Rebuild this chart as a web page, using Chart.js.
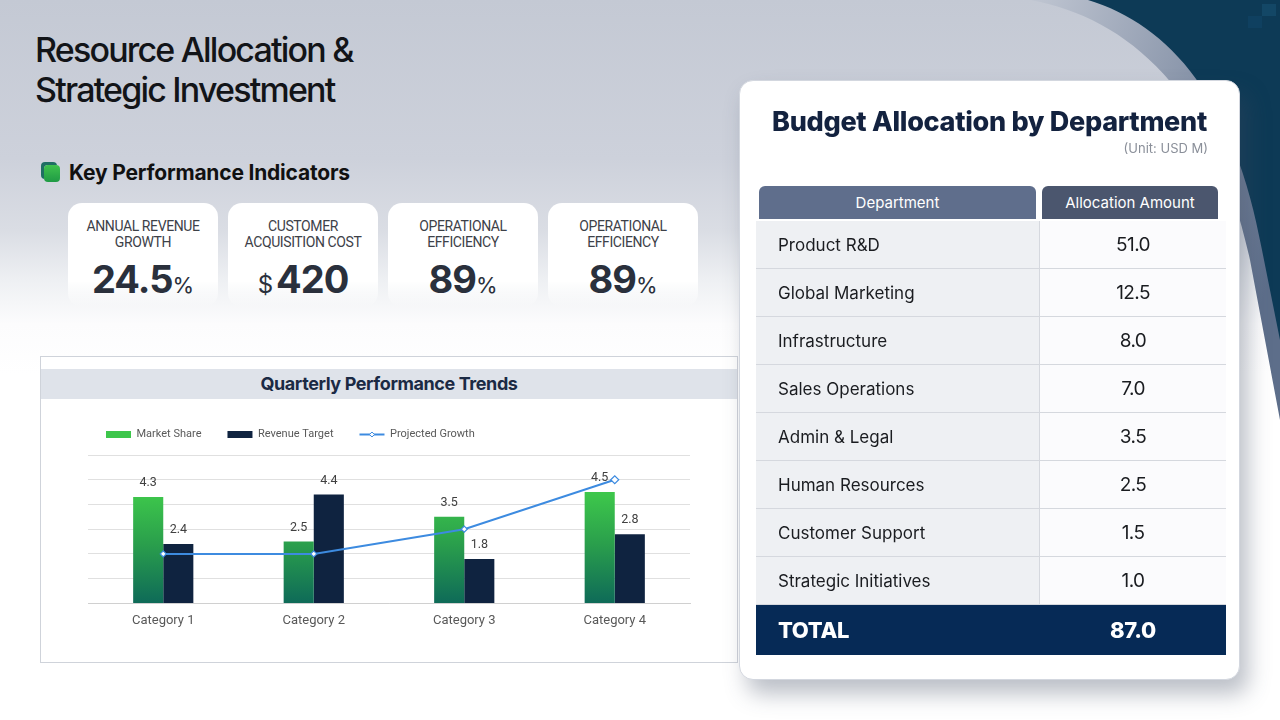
<!DOCTYPE html>
<html>
<head>
<meta charset="utf-8">
<script src="https://cdn.jsdelivr.net/npm/chart.js@4.4.1/dist/chart.umd.min.js"></script>
<style>
  html, body { margin: 0; padding: 0; }
  body {
    width: 1280px; height: 720px; overflow: hidden; position: relative;
    font-family: Inter, "Noto Sans", sans-serif;
    background: linear-gradient(180deg, #c4c9d4 0%, #cdd1db 22%, #dadde4 32%, #eef0f3 39%, #fcfcfd 45%, #ffffff 52%);
  }
  .deco { position: absolute; left: 0; top: 0; }
  .title {
    position: absolute; left: 35px; top: 30px; font-size: 34px; line-height: 40px;
    letter-spacing: -1.8px; color: #121418; font-weight: 500;
  }
  .kpi-head {
    position: absolute; left: 44px; top: 160px; font-size: 21px; font-weight: 700;
    color: #111; letter-spacing: -0.2px; display: flex; align-items: center;
  }
  .kpi-icon {
    width: 16px; height: 17px; border-radius: 4px; margin-right: 9px; margin-top: 2px;
    background: linear-gradient(180deg, #3fc24d, #1f9a45);
    box-shadow: -3px -3px 0 #1f6f63;
  }
  .card {
    position: absolute; top: 203px; width: 150px; height: 104px; border-radius: 14px;
    background: linear-gradient(180deg, #ffffff 75%, rgba(255,255,255,0) 100%);
    text-align: center;
  }
  .card .lbl {
    margin-top: 15px; font-size: 14px; line-height: 16px; color: #3d4148;
    font-family: "Roboto", sans-serif; letter-spacing: -0.4px;
  }
  .card .val {
    margin-top: 6px; font-size: 38px; font-weight: 700; color: #2a303c; letter-spacing: -1px;
    font-family: Inter, sans-serif;
  }
  .card .val small { font-size: 22px; font-weight: 400; letter-spacing: 0; }
  .card .val .cur { font-size: 24px; font-weight: 400; margin-right: 4px; }
  .panel {
    position: absolute; left: 40px; top: 356px; width: 698px; height: 307px;
    background: #fff; border: 1px solid #cfd3da; box-sizing: border-box;
  }
  .panel .band {
    position: absolute; left: 0; right: 0; top: 12px; height: 30px; background: #dfe3ea;
    text-align: center; line-height: 30px; font-size: 18px; font-weight: 700; color: #1b2a44;
    letter-spacing: -0.4px;
  }
  .chart-box { position: absolute; left: 41px; top: 399px; width: 697px; height: 263px; }
  .budget {
    position: absolute; left: 739px; top: 80px; width: 501px; height: 600px;
    background: #fff; border-radius: 14px; border: 1px solid #d3d7df; box-sizing: border-box;
    box-shadow: 8px 14px 22px rgba(60, 72, 95, 0.35);
  }
  .budget h2 {
    margin: 0; position: absolute; left: 0; right: 0; top: 24px; text-align: center;
    font-size: 27px; font-weight: 800; color: #13223f; letter-spacing: -0.3px;
  }
  .budget .unit {
    position: absolute; right: 31px; top: 59px; font-size: 13px; color: #8a8f99;
  }
  .hcell {
    position: absolute; top: 105px; height: 33px; line-height: 33px; text-align: center;
    color: #fff; font-size: 15px; border-radius: 6px 6px 0 0;
  }
  table {
    position: absolute; left: 16px; top: 140px; width: 470px; border-collapse: separate;
    border-spacing: 0;
  }
  td { padding: 0; height: 47px; font-size: 17px; color: #1a1c20; border-bottom: 1px solid #d5d8de; }
  td.d { background: #eef0f3; padding-left: 22px; border-right: 1px solid #d5d8de; width: 261px; }
  td.a { background: #fbfbfd; text-align: center; font-size: 19px; letter-spacing: -0.6px; }
  tr.total td {
    background: #062a56; color: #fff; font-weight: 800; font-size: 22px; height: 50px;
    border: none; letter-spacing: -0.3px;
  }
</style>
</head>
<body>
<svg class="deco" width="1280" height="720">
  <defs>
    <linearGradient id="rim" x1="0" y1="0" x2="1" y2="0.6">
      <stop offset="0" stop-color="#c0c6d2"/>
      <stop offset="1" stop-color="#5d6e8a"/>
    </linearGradient>
  </defs>
  <path d="M1030,0 C1130,18 1215,95 1250,260 L1280,420 L1280,0 Z" fill="url(#rim)"/>
  <path d="M1088,0 C1170,25 1235,100 1262,250 L1280,340 L1280,0 Z" fill="#0d3a56"/>
  <rect x="1262" y="4" width="14" height="12" fill="#134766"/>
  <rect x="1248" y="16" width="14" height="12" fill="#0f4060"/>
</svg>

<div class="title">Resource Allocation &amp;<br>Strategic Investment</div>
<div class="kpi-head"><div class="kpi-icon"></div>Key Performance Indicators</div>
<div id="cards"></div>

<div class="panel"><div class="band">Quarterly Performance Trends</div></div>
<div class="chart-box"><canvas id="myChart"></canvas></div>

<div class="budget">
  <h2>Budget Allocation by Department</h2>
  <div class="unit">(Unit: USD M)</div>
  <div class="hcell" style="left:19px; width:277px; background:#5f6e8c">Department</div>
  <div class="hcell" style="left:302px; width:176px; background:#4b566e">Allocation Amount</div>
  <table id="budgetTable"></table>
</div>

<script>
// KPI cards
const kpiLabels = ['ANNUAL REVENUE<br>GROWTH', 'CUSTOMER<br>ACQUISITION COST', 'OPERATIONAL<br>EFFICIENCY', 'OPERATIONAL<br>EFFICIENCY'];
const kpiValues = ['24.5', '420', '89', '89'];
const kpiPrefix = ['', '$', '', ''];
const kpiSuffix = ['%', '', '%', '%'];

// chart data
const categories = ['Category 1', 'Category 2', 'Category 3', 'Category 4'];
const marketShare = [4.3, 2.5, 3.5, 4.5];
const revenueTarget = [2.4, 4.4, 1.8, 2.8];
const projectedGrowth = [2, 2, 3, 5];

// budget table
const departments = ['Product R&D', 'Global Marketing', 'Infrastructure', 'Sales Operations',
  'Admin & Legal', 'Human Resources', 'Customer Support', 'Strategic Initiatives'];
const amounts = [51.0, 12.5, 8.0, 7.0, 3.5, 2.5, 1.5, 1.0];

// build cards
const cardsEl = document.getElementById('cards');
kpiLabels.forEach((lbl, i) => {
  const c = document.createElement('div');
  c.className = 'card';
  c.style.left = (68 + i * 160) + 'px';
  const pre = kpiPrefix[i] ? '<span class="cur">' + kpiPrefix[i] + '</span>' : '';
  const suf = kpiSuffix[i] ? '<small>' + kpiSuffix[i] + '</small>' : '';
  c.innerHTML = '<div class="lbl">' + lbl + '</div><div class="val">' + pre + kpiValues[i] + suf + '</div>';
  cardsEl.appendChild(c);
});

// build table
const tbl = document.getElementById('budgetTable');
let html = '';
departments.forEach((d, i) => {
  html += '<tr><td class="d">' + d.replace('&', '&amp;') + '</td><td class="a">' + amounts[i].toFixed(1) + '</td></tr>';
});
const total = amounts.reduce((a, b) => a + b, 0);
html += '<tr class="total"><td style="padding-left:22px">TOTAL</td><td style="text-align:center">' + total.toFixed(1) + '</td></tr>';
tbl.innerHTML = html;

// value labels above the bars
const barLabels = {
  id: 'barLabels',
  afterDatasetsDraw(chart) {
    const c = chart.ctx;
    c.save();
    c.font = '12.5px Roboto, sans-serif';
    c.fillStyle = '#404040';
    c.textAlign = 'center';
    c.textBaseline = 'middle';
    [0, 1].forEach(di => {
      const meta = chart.getDatasetMeta(di);
      meta.data.forEach((bar, i) => {
        c.fillText(chart.data.datasets[di].data[i].toFixed(1), bar.x, bar.y - 14);
      });
    });
    c.restore();
  }
};

// extra room under the legend + diamond marker on the line legend item
const legendExtras = {
  id: 'legendExtras',
  beforeInit(chart) {
    const fit = chart.legend.fit;
    chart.legend.fit = function () {
      fit.bind(chart.legend)();
      this.height += 5;
    };
  },
  afterDraw(chart) {
    const lg = chart.legend;
    const box = lg.legendHitBoxes && lg.legendHitBoxes[2];
    if (!box) return;
    const c = chart.ctx;
    const x = box.left + 12.5;
    const y = box.top + box.height / 2;
    c.save();
    c.fillStyle = '#ffffff';
    c.strokeStyle = '#3d8be0';
    c.lineWidth = 1;
    c.beginPath();
    c.moveTo(x, y - 2.5);
    c.lineTo(x + 2.5, y);
    c.lineTo(x, y + 2.5);
    c.lineTo(x - 2.5, y);
    c.closePath();
    c.fill();
    c.stroke();
    c.restore();
  }
};

function greenGradient(context) {
  const area = context.chart.chartArea;
  if (!area) return '#3cc84a';
  const g = context.chart.ctx.createLinearGradient(0, area.top + 40, 0, area.bottom);
  g.addColorStop(0, '#3dc64b');
  g.addColorStop(0.45, '#2a9f4c');
  g.addColorStop(1, '#0e6a58');
  return g;
}

const ctx = document.getElementById('myChart');
new Chart(ctx, {
  type: 'bar',
  data: {
    labels: categories,
    datasets: [
      {
        label: 'Market Share',
        data: marketShare,
        backgroundColor: greenGradient,
        categoryPercentage: 0.4,
        barPercentage: 1.0,
        order: 2
      },
      {
        label: 'Revenue Target',
        data: revenueTarget,
        backgroundColor: '#0f2340',
        categoryPercentage: 0.4,
        barPercentage: 1.0,
        order: 2
      },
      {
        type: 'line',
        label: 'Projected Growth',
        data: projectedGrowth,
        borderColor: '#3d8be0',
        backgroundColor: '#ffffff',
        borderWidth: 2,
        pointStyle: 'rectRot',
        pointRadius: [3, 3, 3, 4],
        pointBorderWidth: 1.2,
        tension: 0,
        order: 1
      }
    ]
  },
  options: {
    responsive: true,
    maintainAspectRatio: false,
    animation: false,
    layout: { padding: { left: 39, right: 48, top: 4, bottom: 31 } },
    plugins: {
      legend: {
        display: true,
        position: 'top',
        align: 'start',
        labels: {
          boxWidth: 25,
          boxHeight: 7,
          padding: 26,
          color: '#595959',
          font: { size: 11, family: 'Roboto, sans-serif' },
          sort: (a, b) => a.datasetIndex - b.datasetIndex,
          generateLabels(chart) {
            const items = Chart.defaults.plugins.legend.labels.generateLabels(chart);
            items.forEach(it => {
              if (it.datasetIndex === 2) {
                it.pointStyle = 'line';
                it.strokeStyle = '#3d8be0';
                it.lineWidth = 2;
              } else {
                it.pointStyle = 'rect';
                it.lineWidth = 0;
              }
            });
            return items;
          },
          usePointStyle: true,
          pointStyleWidth: 25
        }
      },
      tooltip: { enabled: false }
    },
    scales: {
      x: {
        grid: { display: false },
        border: { color: '#d0d0d0' },
        ticks: { color: '#595959', font: { size: 13, family: 'Roboto, sans-serif' }, padding: 2 }
      },
      y: {
        min: 0,
        max: 6,
        afterFit(scale) { scale.width = 8; },
        ticks: { display: false, stepSize: 1 },
        grid: { color: '#e0e0e0', drawTicks: false },
        border: { display: false }
      }
    }
  },
  plugins: [barLabels, legendExtras]
});
</script>
</body>
</html>
